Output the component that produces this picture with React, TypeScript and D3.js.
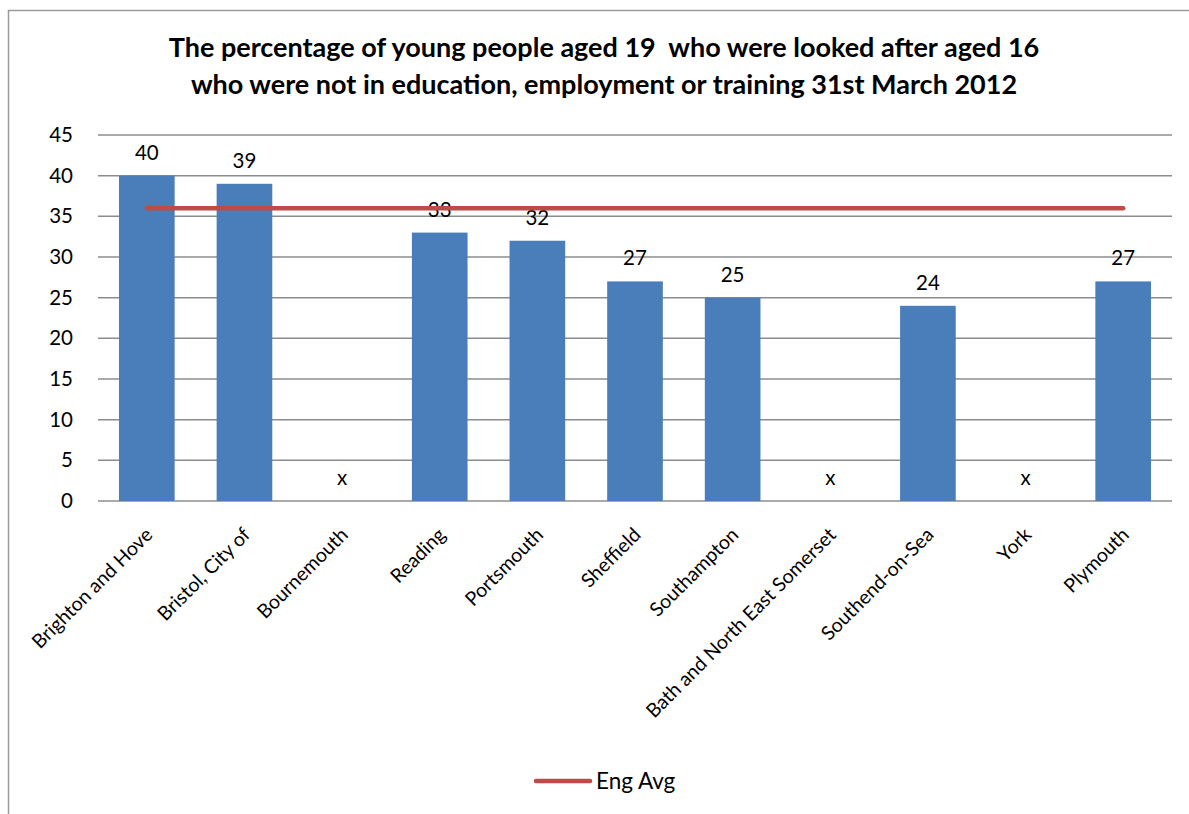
import React from "react";
import * as d3 from "d3";

const categories = [
  "Brighton and Hove",
  "Bristol, City of",
  "Bournemouth",
  "Reading",
  "Portsmouth",
  "Sheffield",
  "Southampton",
  "Bath and North East Somerset",
  "Southend-on-Sea",
  "York",
  "Plymouth",
];
const values: (number | null)[] = [40, 39, null, 33, 32, 27, 25, null, 24, null, 27];
const engAvg = 36;
const yTicks = [0, 5, 10, 15, 20, 25, 30, 35, 40, 45];
const titleLines = [
  "The percentage of young people aged 19  who were looked after aged 16",
  "who were not in education, employment or training 31st March 2012",
];
const legendLabel = "Eng Avg";

const W = 1189;
const H = 814;
const FONT = "Lato, 'Open Sans', sans-serif";

export default function App() {
  const left = 98;
  const right = 1172;
  const top = 135;
  const bottom = 501;

  const x = d3.scaleBand<string>().domain(categories).range([left, right]).paddingInner(0.43).paddingOuter(0.215);
  const y = d3.scaleLinear().domain([0, 45]).range([bottom, top]);

  const cx = (c: string) => (x(c) ?? 0) + x.bandwidth() / 2;

  const linePath = d3
    .line<string>()
    .x((c) => cx(c))
    .y(() => y(engAvg))(categories);

  return (
    <svg width={W} height={H} style={{ position: "absolute", left: 0, top: 0, background: "#fff" }}>
      <rect x={8.5} y={10.5} width={1300} height={900} fill="#fff" stroke="#9a9a9a" strokeWidth={1.5} />
      {titleLines.map((t, i) => (
        <text
          key={i}
          x={604}
          y={57 + i * 37}
          textAnchor="middle"
          fontFamily={FONT}
          fontWeight="bold"
          fontSize={27}
          fill="#000"
          style={{ whiteSpace: "pre" }}
        >
          {t}
        </text>
      ))}
      {yTicks.map((t) => (
        <g key={t}>
          <line x1={left} x2={right} y1={y(t)} y2={y(t)} stroke="#8c8c8c" strokeWidth={1.5} />
          <text x={73} y={y(t) + 7} textAnchor="end" fontFamily={FONT} fontSize={20.5} fill="#000">
            {t}
          </text>
        </g>
      ))}
      {categories.map((c, i) => {
        const v = values[i];
        return (
          <g key={c}>
            {v !== null && (
              <rect x={x(c)} y={y(v)} width={x.bandwidth()} height={bottom - y(v)} fill="#4a7ebb" />
            )}
            <text
              x={cx(c)}
              y={(v !== null ? y(v) : bottom) - 16}
              textAnchor="middle"
              fontFamily={FONT}
              fontSize={20.5}
              fill="#000"
            >
              {v !== null ? v : "x"}
            </text>
            <text
              transform={`translate(${cx(c) + 7},${bottom + 35}) rotate(-45)`}
              textAnchor="end"
              fontFamily={FONT}
              fontSize={19.5}
              fill="#000"
            >
              {c}
            </text>
          </g>
        );
      })}
      <path d={linePath ?? ""} fill="none" stroke="#be4b48" strokeWidth={4.5} strokeLinecap="round" />
      <line x1={536} x2={590} y1={781} y2={781} stroke="#be4b48" strokeWidth={4.5} strokeLinecap="round" />
      <text x={596} y={789} fontFamily={FONT} fontSize={22.5} fill="#000">
        {legendLabel}
      </text>
    </svg>
  );
}
